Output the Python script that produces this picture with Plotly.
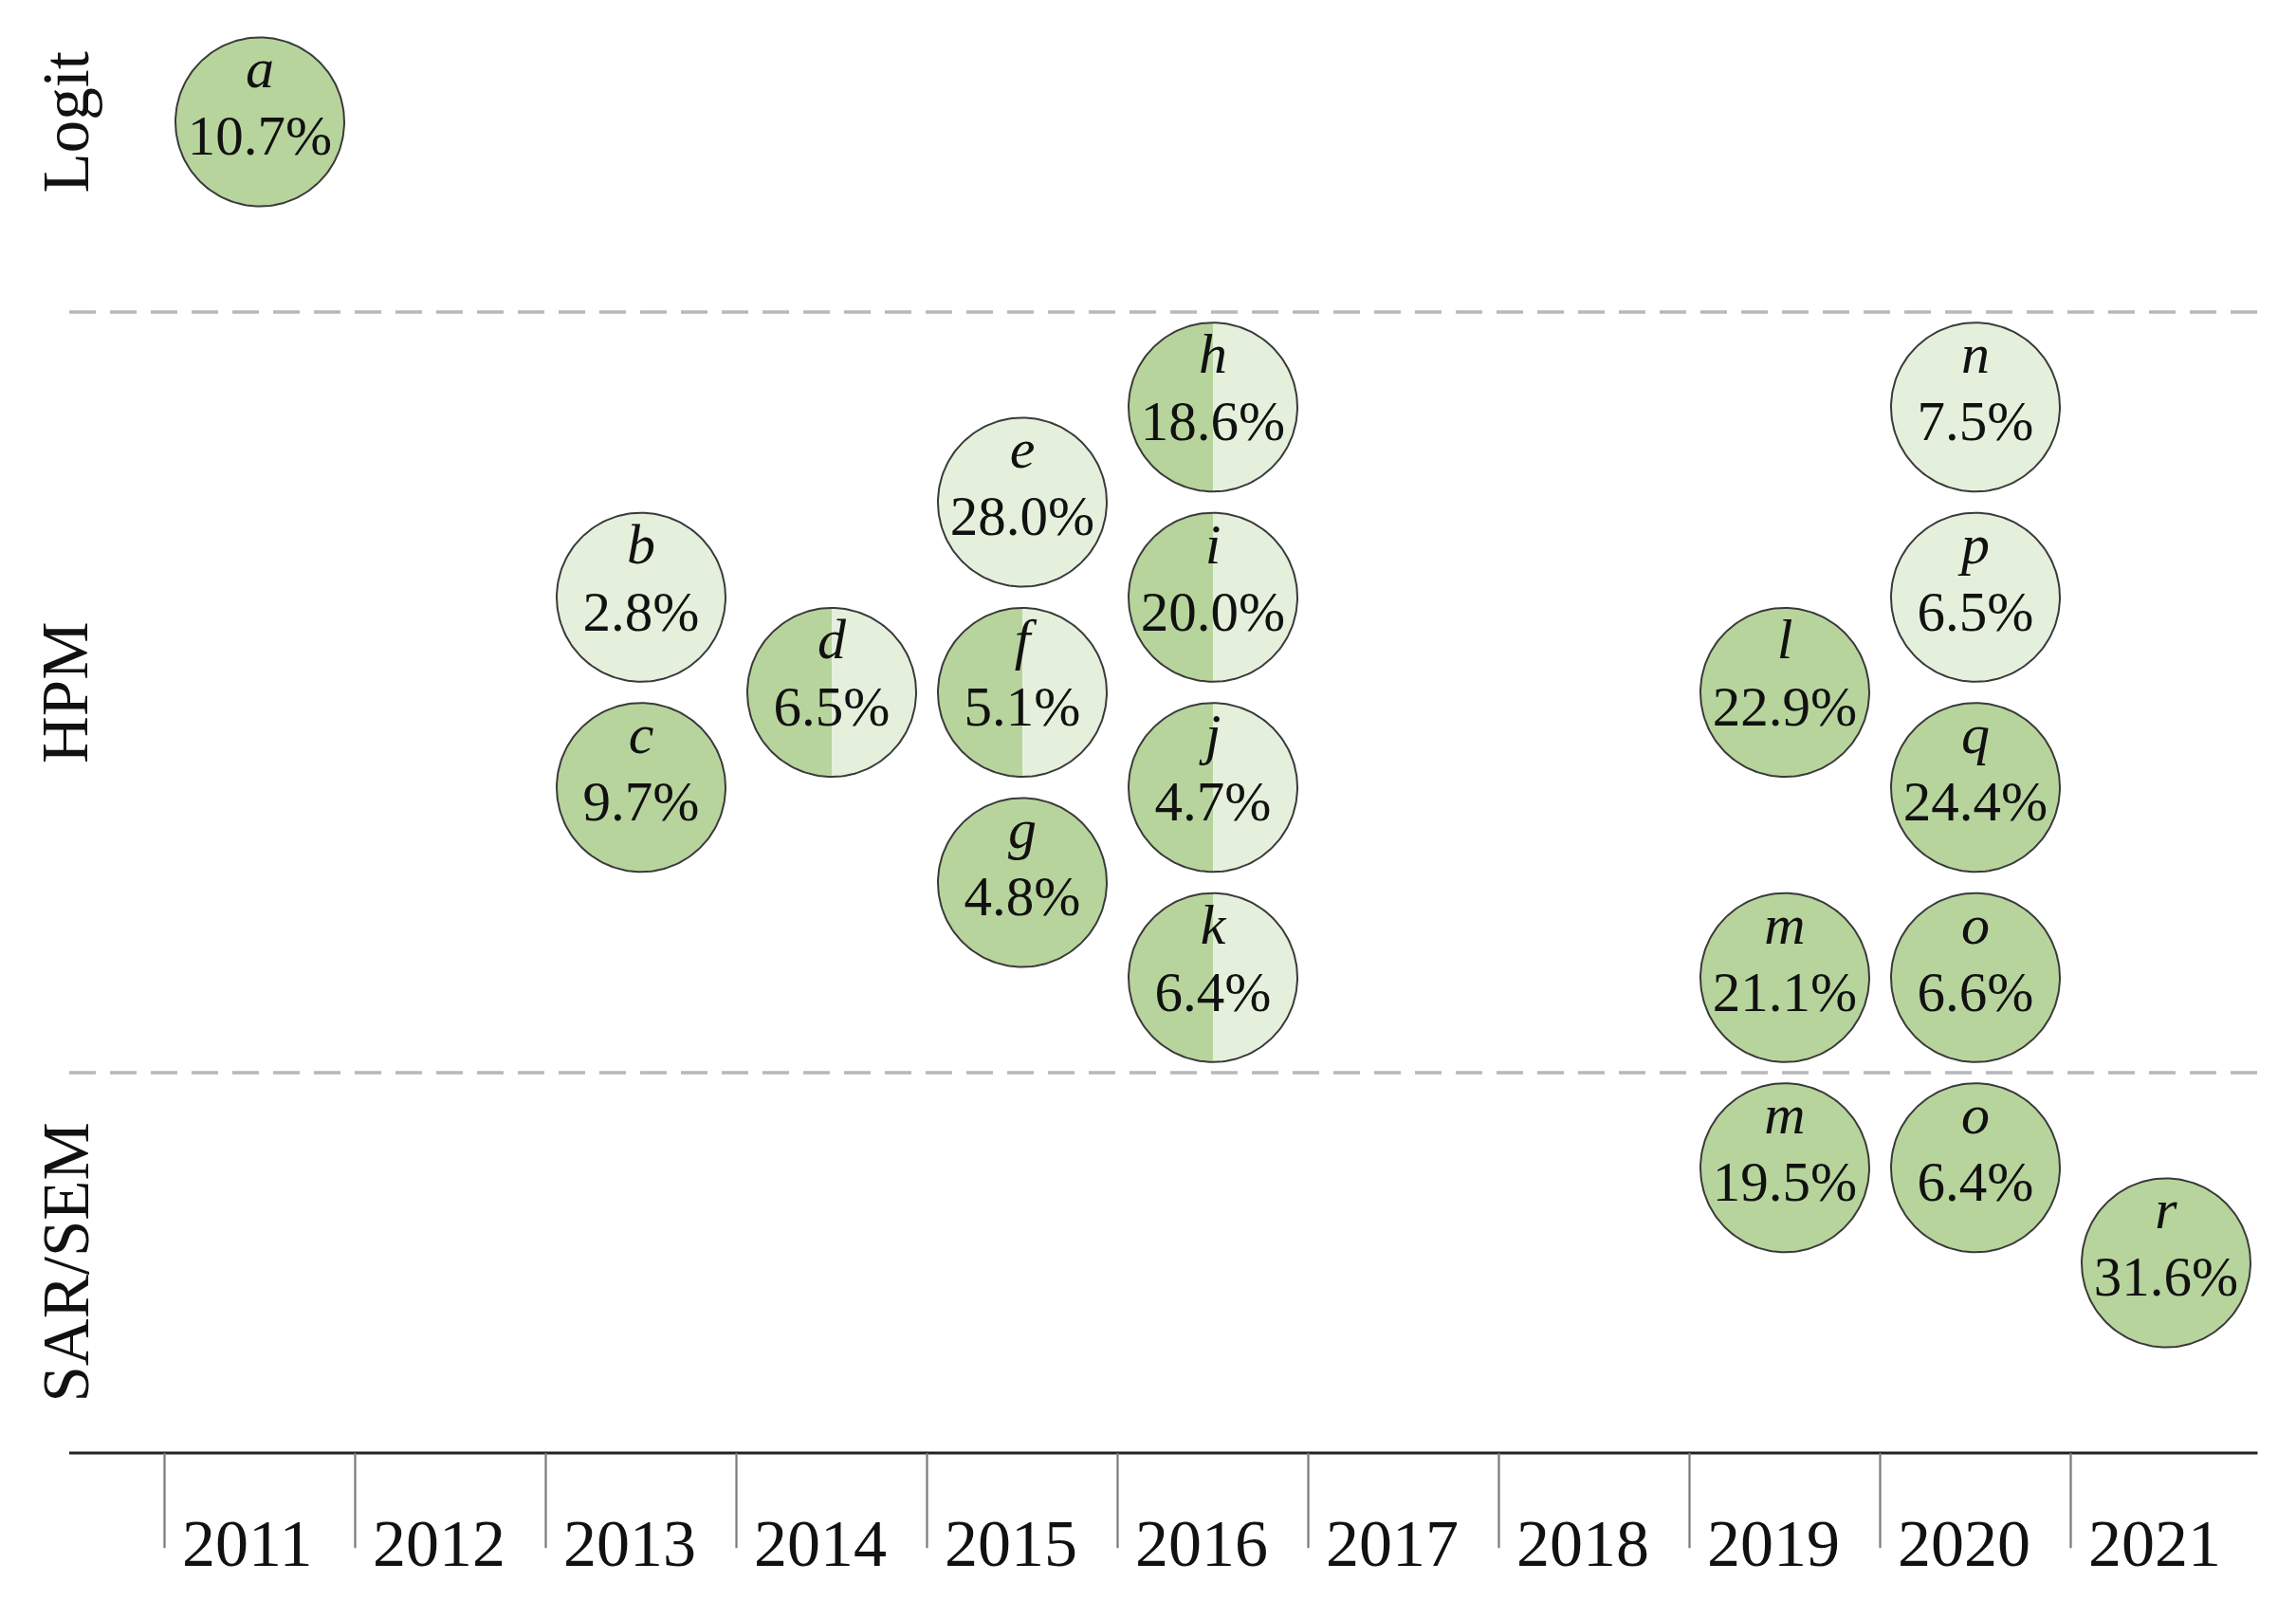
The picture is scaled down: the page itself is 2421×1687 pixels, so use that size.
import numpy as np
import plotly.graph_objects as go

# ---------------- data ----------------
axis_years = [2011, 2012, 2013, 2014, 2015, 2016, 2017, 2018, 2019, 2020, 2021]
row_labels = ["Logit", "HPM", "SAR/SEM"]
row_centers = [14, 8, 2]
row_bounds = [12, 4]

letters = ["a", "b", "c", "d", "e", "f", "g", "h", "i", "j",
           "k", "l", "m", "n", "o", "p", "q", "m", "o", "r"]
study_years = [2011, 2013, 2013, 2014, 2015, 2015, 2015, 2016, 2016, 2016,
               2016, 2019, 2019, 2020, 2020, 2020, 2020, 2019, 2020, 2021]
levels = [14, 9, 7, 8, 10, 8, 6, 11, 9, 7,
          5, 8, 5, 11, 5, 9, 7, 3, 3, 2]
shares = [10.7, 2.8, 9.7, 6.5, 28.0, 5.1, 4.8, 18.6, 20.0, 4.7,
          6.4, 22.9, 21.1, 7.5, 6.6, 6.5, 24.4, 19.5, 6.4, 31.6]
fill_kind = ["full", "light", "full", "half", "light", "half", "full", "half", "half", "half",
             "half", "full", "full", "light", "full", "light", "full", "full", "full", "full"]

# ---------------- styles ----------------
DARK = "#b8d49d"
LIGHT = "#e5f0dc"
EDGE = "#3a3a3a"
FONT = "Liberation Serif, Times New Roman, serif"

PX_X = 201.0     # pixels per year
PX_Y = 100.25    # pixels per level
R_PX = 89.0
rx = R_PX / PX_X
ry = R_PX / PX_Y

W, H = 2421, 1687
x0 = axis_years[0] - 1.0 - 73.0 / PX_X
x1 = x0 + W / PX_X
y_top = 1532.0 / PX_Y
y_bot = (1532.0 - H) / PX_Y

fig = go.Figure()

t_left = np.linspace(np.pi / 2, 3 * np.pi / 2, 81)
t_right = np.linspace(-np.pi / 2, np.pi / 2, 81)
t_full = np.linspace(0, 2 * np.pi, 161)


def poly(cx, cy, t, color):
    xs = list(cx + rx * np.cos(t))
    ys = list(cy + ry * np.sin(t))
    fig.add_trace(go.Scatter(x=xs, y=ys, mode="lines", fill="toself",
                             fillcolor=color, line=dict(width=0, color=color),
                             hoverinfo="skip", showlegend=False))


# circles
for cx, cy, kind in zip(study_years, levels, fill_kind):
    if kind == "half":
        poly(cx, cy, t_left, DARK)
        poly(cx, cy, t_right, LIGHT)
    elif kind == "full":
        poly(cx, cy, t_full, DARK)
    else:
        poly(cx, cy, t_full, LIGHT)
    fig.add_trace(go.Scatter(x=list(cx + rx * np.cos(t_full)), y=list(cy + ry * np.sin(t_full)),
                             mode="lines", line=dict(color=EDGE, width=2.0),
                             hoverinfo="skip", showlegend=False))

# texts in circles
fig.add_trace(go.Scatter(
    x=study_years, y=[v + 0.51 for v in levels], mode="text", text=letters,
    textfont=dict(family=FONT, size=60, color="#111111", style="italic"),
    textposition="middle center", hoverinfo="skip", showlegend=False))
fig.add_trace(go.Scatter(
    x=study_years, y=[v - 0.2 for v in levels], mode="text",
    text=[f"{s:.1f}%" for s in shares],
    textfont=dict(family=FONT, size=59, color="#111111"),
    textposition="middle center", hoverinfo="skip", showlegend=False))

# baseline axis
x_start = axis_years[0] - 1.0
x_end = axis_years[-1] + 0.48
fig.add_trace(go.Scatter(x=[x_start, x_end], y=[0, 0], mode="lines",
                         line=dict(color="#222222", width=3.2),
                         hoverinfo="skip", showlegend=False))

# separators between years
sx, sy = [], []
for yr in axis_years:
    sx += [yr - 0.5, yr - 0.5, None]
    sy += [0, -1.0, None]
fig.add_trace(go.Scatter(x=sx, y=sy, mode="lines",
                         line=dict(color="#7a7a7a", width=2.2),
                         hoverinfo="skip", showlegend=False))

# dashed category boundaries
for b in row_bounds:
    fig.add_trace(go.Scatter(x=[x_start, x_end], y=[b, b], mode="lines",
                             line=dict(color="#b8b8b8", width=3.5, dash="28px,15px"),
                             hoverinfo="skip", showlegend=False))

annotations = []
for yr in axis_years:
    annotations.append(dict(x=yr - 0.5 + 16.0 / PX_X, y=-0.95, xref="x", yref="y",
                            text=str(yr), showarrow=False, xanchor="left", yanchor="middle",
                            font=dict(family=FONT, size=70, color="#111111")))
for lab, c in zip(row_labels, row_centers):
    annotations.append(dict(x=x_start - 4.0 / PX_X, y=c, xref="x", yref="y",
                            text=lab, showarrow=False, textangle=-90,
                            xanchor="center", yanchor="middle",
                            font=dict(family=FONT, size=69, color="#111111")))

fig.update_layout(
    width=W, height=H,
    margin=dict(l=0, r=0, t=0, b=0),
    paper_bgcolor="white", plot_bgcolor="white",
    xaxis=dict(range=[x0, x1], visible=False, fixedrange=True),
    yaxis=dict(range=[y_bot, y_top], visible=False, fixedrange=True),
    annotations=annotations,
    showlegend=False,
    hovermode=False,
)

fig.write_html("out.html", config={"displayModeBar": False},
               post_script="document.body.style.margin='0';")
